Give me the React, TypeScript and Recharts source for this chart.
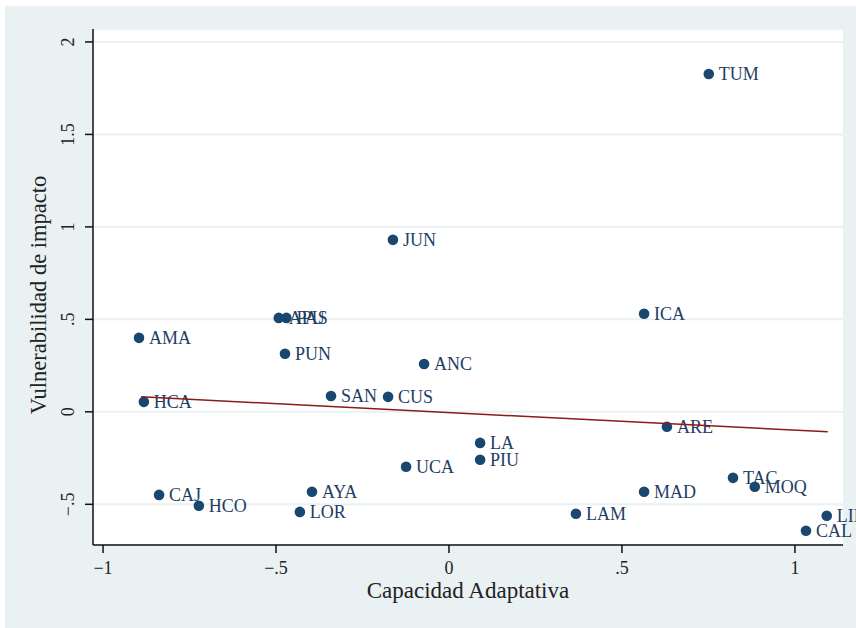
import React from "react";
import {
  CartesianGrid,
  Scatter,
  ScatterChart,
  XAxis,
  YAxis,
} from "recharts";

const regions = [
  "TUM", "JUN", "AMA", "APU", "PAS", "PUN", "ANC", "ICA", "HCA", "SAN",
  "CUS", "ARE", "LA", "PIU", "UCA", "TAC", "MOQ", "CAJ", "HCO", "AYA",
  "LOR", "LAM", "MAD", "LIM", "CAL",
];
const capacidad = [
  0.751, -0.162, -0.896, -0.492, -0.47, -0.474, -0.072, 0.564, -0.882, -0.341,
  -0.176, 0.63, 0.09, 0.09, -0.124, 0.821, 0.884, -0.838, -0.723, -0.396,
  -0.431, 0.367, 0.564, 1.092, 1.032,
];
const vulnerabilidad = [
  1.827, 0.93, 0.4, 0.508, 0.508, 0.314, 0.259, 0.53, 0.054, 0.086,
  0.081, -0.081, -0.168, -0.259, -0.297, -0.357, -0.405, -0.449, -0.508, -0.432,
  -0.541, -0.551, -0.432, -0.562, -0.643,
];

const fitX = [-0.89, 1.095];
const fitY = [0.081, -0.108];

const xTicks = [-1, -0.5, 0, 0.5, 1];
const yTicks = [-0.5, 0, 0.5, 1, 1.5, 2];

const BG = "#eaf1f3";
const NAVY = "#1a476f";
const FONT = "'Liberation Serif', 'DejaVu Serif', serif";

const points = regions.map((name, i) => ({
  name,
  x: capacidad[i],
  y: vulnerabilidad[i],
}));
const fitLine = fitX.map((x, i) => ({ x, y: fitY[i] }));

// stata style: no leading zero, real minus sign
const fmt = (v: number) => {
  const s = Math.abs(v).toString().replace(/^0\./, ".");
  return v < 0 ? "\u2212" + s : s;
};

const XTick = (props: any) => {
  const { x, y, payload } = props;
  return (
    <text
      x={x}
      y={y}
      dy={11}
      textAnchor="middle"
      dominantBaseline="central"
      fontFamily={FONT}
      fontSize={18}
      fill="#222"
    >
      {fmt(payload.value)}
    </text>
  );
};

const YTick = (props: any) => {
  const { x, y, payload } = props;
  const cx = x - 13;
  return (
    <text
      x={cx}
      y={y}
      transform={`rotate(-90, ${cx}, ${y})`}
      textAnchor="middle"
      dominantBaseline="central"
      fontFamily={FONT}
      fontSize={18}
      fill="#222"
    >
      {fmt(payload.value)}
    </text>
  );
};

const LabeledDot = (props: any) => {
  const { cx, cy, payload } = props;
  return (
    <g>
      <circle cx={cx} cy={cy} r={5.3} fill={NAVY} />
      <text
        x={cx + 10}
        y={cy}
        dominantBaseline="central"
        fontFamily={FONT}
        fontSize={18}
        fill="#223d63"
      >
        {payload.name}
      </text>
    </g>
  );
};

export default function App() {
  return (
    <div
      style={{
        position: "absolute",
        left: 0,
        top: 0,
        width: 856,
        height: 628,
        background: "#fff",
        overflow: "hidden",
      }}
    >
      <div style={{ position: "absolute", left: 5, top: 6, background: BG }}>
        <ScatterChart
          width={851}
          height={622}
          margin={{ top: 23, right: 13, left: 28, bottom: 23 }}
          style={{ overflow: "visible" }}
        >
          <CartesianGrid
            vertical={false}
            stroke={BG}
            strokeWidth={2}
            fill="#fff"
            fillOpacity={1}
          />
          <XAxis
            type="number"
            dataKey="x"
            domain={[-1.029, 1.139]}
            ticks={xTicks}
            height={60}
            tickSize={8}
            tickMargin={4}
            tick={<XTick />}
            axisLine={{ stroke: "#111", strokeWidth: 1.5 }}
            tickLine={{ stroke: "#111", strokeWidth: 1.5 }}
            label={{
              content: (p: any) => (
                <text
                  x={p.viewBox.x + p.viewBox.width / 2}
                  y={p.viewBox.y + 45}
                  textAnchor="middle"
                  dominantBaseline="central"
                  fontFamily={FONT}
                  fontSize={23}
                  fill="#222"
                >
                  Capacidad Adaptativa
                </text>
              ),
            }}
          />
          <YAxis
            type="number"
            dataKey="y"
            domain={[-0.72, 2.07]}
            ticks={yTicks}
            width={60}
            tickSize={8}
            tickMargin={4}
            tick={<YTick />}
            axisLine={{ stroke: "#111", strokeWidth: 1.5 }}
            tickLine={{ stroke: "#111", strokeWidth: 1.5 }}
            label={{
              content: (p: any) => {
                const lx = p.viewBox.x + 5;
                const ly = p.viewBox.y + p.viewBox.height / 2 + 8;
                return (
                  <text
                    x={lx}
                    y={ly}
                    transform={`rotate(-90, ${lx}, ${ly})`}
                    textAnchor="middle"
                    dominantBaseline="central"
                    fontFamily={FONT}
                    fontSize={22.5}
                    fill="#222"
                  >
                    Vulnerabilidad de impacto
                  </text>
                );
              },
            }}
          />
          <Scatter
            data={points}
            shape={<LabeledDot />}
            isAnimationActive={false}
          />
          <Scatter
            data={fitLine}
            line={{ stroke: "#8b1a1a", strokeWidth: 1.5 }}
            shape={() => <g />}
            isAnimationActive={false}
          />
        </ScatterChart>
      </div>
    </div>
  );
}
